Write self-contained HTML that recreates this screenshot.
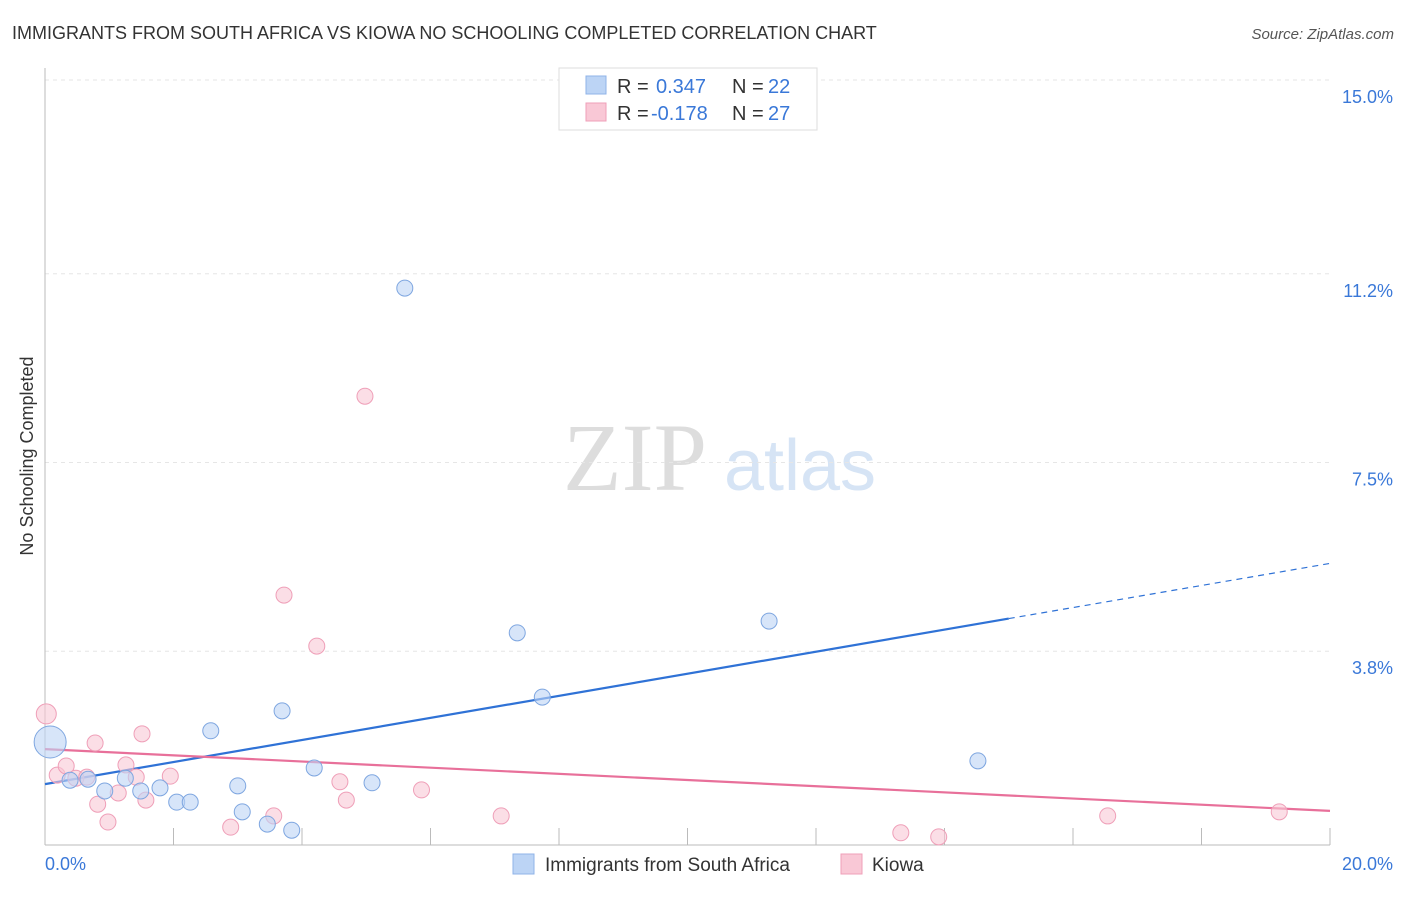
<!DOCTYPE html>
<html><head><meta charset="utf-8"><style>
body{margin:0;background:#fff;font-family:"Liberation Sans",sans-serif}
svg text{font-family:"Liberation Sans",sans-serif}
</style></head><body>
<svg id="chart" width="1406" height="892" viewBox="0 0 1406 892" xmlns="http://www.w3.org/2000/svg">
<text x="12" y="39" font-size="18" fill="#333">IMMIGRANTS FROM SOUTH AFRICA VS KIOWA NO SCHOOLING COMPLETED CORRELATION CHART</text>
<text x="1394" y="39" font-size="15" fill="#555" font-style="italic" text-anchor="end">Source: ZipAtlas.com</text>
<text x="33" y="456" font-size="18" fill="#333" text-anchor="middle" transform="rotate(-90 33 456)">No Schooling Completed</text>
<g>
<text x="635" y="490" font-size="96" fill="#ddd" text-anchor="middle" style="font-family:'Liberation Serif',serif">ZIP</text>
<text x="800" y="490" font-size="72" fill="#d6e4f5" text-anchor="middle">atlas</text>
</g>
<g id="grid"></g>
<g id="axes"></g>
<g id="marks"></g>
<g>
<rect x="559" y="68" width="258" height="62" fill="#fff" stroke="#ddd"/>
<rect x="586" y="76" width="20" height="18" fill="#bcd4f5" stroke="#8fb3e8"/>
<text x="617" y="93" font-size="20" fill="#333">R = </text><text x="656" y="93" font-size="20" fill="#3a78d8">0.347</text>
<text x="732" y="93" font-size="20" fill="#333">N = </text><text x="768" y="93" font-size="20" fill="#3a78d8">22</text>
<rect x="586" y="103" width="20" height="18" fill="#f9c8d6" stroke="#ef9fb8"/>
<text x="617" y="120" font-size="20" fill="#333">R = </text><text x="651" y="120" font-size="20" fill="#3a78d8">-0.178</text>
<text x="732" y="120" font-size="20" fill="#333">N = </text><text x="768" y="120" font-size="20" fill="#3a78d8">27</text>
</g>
<g>
<rect x="513" y="854" width="21" height="20" fill="#bcd4f5" stroke="#8fb3e8"/>
<text x="545" y="871" font-size="19" fill="#333">Immigrants from South Africa</text>
<rect x="841" y="854" width="21" height="20" fill="#f9c8d6" stroke="#ef9fb8"/>
<text x="872" y="871" font-size="19" fill="#333">Kiowa</text>
</g>
</svg>
<script>
const yTicks=[3.8,7.5,11.2,15.0];
const yTickLabels=["3.8%","7.5%","11.2%","15.0%"];
const xTicks=[0,2,4,6,8,10,12,14,16,18,20];
const blueX=[0.08,0.39,0.67,0.93,1.25,1.49,1.79,2.05,2.26,2.58,3.0,3.07,3.46,3.69,3.84,4.19,5.09,5.6,7.35,7.74,11.27,14.52];
const blueY=[2.02,1.27,1.29,1.06,1.31,1.06,1.12,0.84,0.84,2.24,1.16,0.65,0.41,2.63,0.29,1.51,1.22,10.92,4.16,2.9,4.39,1.65];
const pinkX=[0.02,0.19,0.33,0.48,0.65,0.78,0.82,0.98,1.14,1.26,1.42,1.51,1.57,1.95,2.89,3.56,3.72,4.23,4.59,4.69,4.98,5.86,7.1,13.32,13.91,16.54,19.21];
const pinkY=[2.57,1.37,1.55,1.31,1.33,2.0,0.8,0.45,1.02,1.57,1.33,2.18,0.88,1.35,0.35,0.57,4.9,3.9,1.24,0.88,8.8,1.08,0.57,0.24,0.16,0.57,0.65];
const ns="http://www.w3.org/2000/svg";
const X=v=>45+v*64.25, Y=v=>845-v*51;
function mk(t,a,p){const e=document.createElementNS(ns,t);for(const k in a)e.setAttribute(k,a[k]);p.appendChild(e);return e;}
const grid=document.getElementById('grid'),axes=document.getElementById('axes'),marks=document.getElementById('marks');
yTicks.forEach((t,i)=>{
 const l=mk('line',{x1:45,x2:1330,y1:Y(t),y2:Y(t),stroke:'#e6e6e6','stroke-dasharray':'4,4'},grid);
 
 
 const tx=mk('text',{x:1393,y:Y(t)+23,'font-size':18,fill:'#3a78d8','text-anchor':'end'},axes);
 tx.textContent=yTickLabels[i];
 
 
});
const ya=mk('line',{x1:45,x2:45,y1:68,y2:845,stroke:'#bbb'},axes);


const xa=mk('line',{x1:45,x2:1330,y1:845,y2:845,stroke:'#bbb'},axes);


xTicks.forEach(t=>{const l=mk('line',{x1:X(t),x2:X(t),y1:828,y2:845,stroke:'#bbb'},axes);
 
 });
[[0,"0.0%",'start',45],[20,"20.0%",'end',1393]].forEach(a=>{const tx=mk('text',{x:a[3],y:870,'font-size':18,fill:'#3a78d8','text-anchor':a[2]},axes);tx.textContent=a[1];
 
 });
function fit(xs,ys){const n=xs.length,mx=xs.reduce((a,b)=>a+b)/n,my=ys.reduce((a,b)=>a+b)/n;let sxy=0,sxx=0;xs.forEach((x,i)=>{sxy+=(x-mx)*(ys[i]-my);sxx+=(x-mx)**2});const b=sxy/sxx;return [my-b*mx,b];}
const bf=fit(blueX,blueY),pf=fit(pinkX,pinkY);
const bEnd=15;
let l=mk('line',{x1:X(0),y1:Y(bf[0]),x2:X(bEnd),y2:Y(bf[0]+bf[1]*bEnd),stroke:'#2f72d6','stroke-width':2.2},marks);


l=mk('line',{x1:X(bEnd),y1:Y(bf[0]+bf[1]*bEnd),x2:X(20),y2:Y(bf[0]+bf[1]*20),stroke:'#2f72d6','stroke-width':1.2,'stroke-dasharray':'6,5'},marks);


l=mk('line',{x1:X(0),y1:Y(pf[0]),x2:X(20),y2:Y(pf[0]+pf[1]*20),stroke:'#e8709a','stroke-width':2.2},marks);


pinkX.forEach((x,i)=>{const c=mk('circle',{cx:X(x),cy:Y(pinkY[i]),r:i==0?10:8,fill:'rgba(249,200,214,0.6)',stroke:'#ef9fb8','stroke-width':1},marks);
 
 });
blueX.forEach((x,i)=>{const c=mk('circle',{cx:X(x),cy:Y(blueY[i]),r:i==0?16:8,fill:'rgba(188,212,245,0.6)',stroke:'#7ea6e0','stroke-width':1},marks);
 
 });
</script>
</body></html>
